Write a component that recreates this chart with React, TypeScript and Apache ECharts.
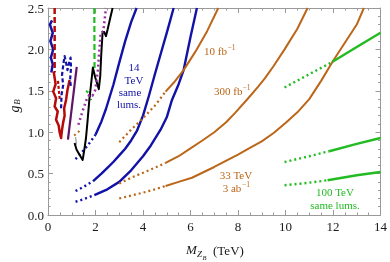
import React, { useEffect, useRef } from "react";
import * as echarts from "echarts";

const FONT = "'Liberation Serif', 'DejaVu Serif', serif";

const xRange = [0, 14];
const yRange = [0, 2.5];

// 14 TeV (blue)
const blue1Dotted = [[1.16, 0.675], [1.4, 0.75], [1.7, 0.85], [2.0, 0.97]];
const blue1Solid = [[2.0, 0.97], [2.25, 1.13], [2.44, 1.28], [2.75, 1.57], [3.0, 1.84], [3.25, 2.1], [3.5, 2.33], [3.73, 2.5]];
const blue2Dotted = [[1.16, 0.29], [1.5, 0.34], [1.9, 0.41]];
const blue2Solid = [[1.9, 0.41], [2.25, 0.5], [2.5, 0.57], [2.75, 0.64], [3.0, 0.72], [3.25, 0.8], [3.5, 0.9], [3.75, 1.02], [4.0, 1.2], [4.25, 1.44], [4.5, 1.7], [4.75, 1.95], [5.0, 2.2], [5.29, 2.5]];
const blue3Dotted = [[1.16, 0.16], [1.5, 0.19], [1.95, 0.24]];
const blue3Solid = [[1.95, 0.24], [2.5, 0.31], [3.0, 0.4], [3.5, 0.54], [4.0, 0.71], [4.33, 0.84], [4.74, 1.03], [5.0, 1.18], [5.22, 1.39], [5.5, 1.58], [5.71, 1.75], [6.0, 2.15], [6.27, 2.5]];

// 33 TeV (brown)
const fb10Dotted = [[3.0, 0.88], [3.5, 1.03], [4.0, 1.17], [4.5, 1.32], [4.95, 1.49]];
const fb10Solid = [[4.95, 1.49], [5.3, 1.6], [5.71, 1.75], [6.2, 1.97], [6.7, 2.22], [7.17, 2.5]];
const fb300Dotted = [[3.0, 0.38], [3.5, 0.45], [4.0, 0.51], [4.5, 0.57], [4.95, 0.63]];
const fb300Solid = [[4.95, 0.63], [5.5, 0.71], [5.92, 0.79], [6.5, 0.9], [7.0, 1.0], [7.5, 1.12], [7.87, 1.23], [8.43, 1.41], [8.85, 1.55], [9.13, 1.65], [9.5, 1.8], [9.96, 2.0], [10.5, 2.25], [10.93, 2.5]];
const ab3Dotted = [[3.0, 0.2], [3.5, 0.235], [4.0, 0.27], [4.5, 0.31], [4.95, 0.35]];
const ab3Solid = [[4.95, 0.35], [5.5, 0.4], [6.06, 0.45], [7.0, 0.58], [7.59, 0.67], [8.0, 0.73], [8.5, 0.81], [9.0, 0.89], [9.5, 0.99], [10.0, 1.11], [10.5, 1.24], [11.0, 1.4], [11.5, 1.62], [12.0, 1.86], [12.5, 2.08], [13.0, 2.3], [13.3, 2.5]];
const brownSmallDotted = [[1.1, 0.96], [1.22, 0.99], [1.35, 1.02]];

// 100 TeV (green)
const g1Dotted = [[9.96, 1.54], [11.0, 1.7], [11.98, 1.85]];
const g1Solid = [[11.98, 1.85], [13.0, 2.03], [14.0, 2.2]];
const g2Dotted = [[9.96, 0.64], [11.0, 0.71], [11.84, 0.77]];
const g2Solid = [[11.84, 0.77], [13.0, 0.86], [14.0, 0.93]];
const g3Dotted = [[9.96, 0.36], [11.0, 0.39], [11.77, 0.42]];
const g3Solid = [[11.77, 0.42], [13.0, 0.48], [14.0, 0.52]];

// existing limits (left region)
const blueJagged = [[0.17, 2.35], [0.08, 2.3], [0.2, 2.2], [0.1, 2.1], [0.22, 2.0], [0.12, 1.9], [0.2, 1.82], [0.14, 1.72]];
const redDashed = [[0.28, 2.5], [0.28, 1.72]];
const redSolid = [[0.24, 1.73], [0.32, 1.58], [0.22, 1.49], [0.34, 1.41], [0.28, 1.31], [0.41, 1.25], [0.34, 1.15], [0.45, 1.08], [0.49, 1.0], [0.55, 0.93], [0.59, 1.03], [0.64, 1.12], [0.7, 1.2], [0.68, 1.29], [0.76, 1.39], [0.82, 1.51], [0.91, 1.63]];
const redDashedShort = [[0.42, 1.62], [0.46, 1.5], [0.5, 1.38]];
const blueDashed = [[0.55, 1.29], [0.57, 1.45], [0.64, 1.57], [0.59, 1.69], [0.66, 1.85], [0.7, 1.92], [0.76, 1.84], [0.82, 1.75], [0.89, 1.84], [0.95, 1.9], [0.97, 1.78], [0.93, 1.63], [0.97, 1.54]];
const purpleSolid = [[0.84, 0.91], [1.21, 1.79]];
const greenDashed = [[1.95, 2.5], [1.96, 1.76]];
const greenDashedShort = [[1.6, 1.5], [1.74, 1.47], [1.82, 1.39]];
const grayShort = [[1.16, 0.94], [1.2, 0.85]];
const blackSolid = [[1.12, 0.87], [1.2, 0.79], [1.32, 0.73], [1.46, 0.665], [1.53, 0.79], [1.6, 0.93], [1.67, 1.15], [1.74, 1.39], [1.81, 1.57], [1.89, 1.78], [1.99, 1.66], [2.14, 1.52], [2.2, 1.68], [2.24, 1.93], [2.3, 2.21], [2.37, 2.21], [2.44, 2.16], [2.51, 2.24], [2.62, 2.38], [2.72, 2.5]];
const purpleDotted = [[1.28, 1.09], [1.45, 1.25], [1.62, 1.39], [1.74, 1.45], [1.87, 1.44], [1.99, 1.51], [2.1, 1.75], [2.18, 2.06], [2.22, 2.2], [2.33, 2.22], [2.44, 2.5]];

const BLUE = "#1212a8";
const BROWN = "#bb6618";
const GREEN = "#22bb22";
const RED = "#b80a0a";
const PURPLE = "#621466";
const PURPLE2 = "#9a2ea0";

const DOT = [2, 3];

function line(data: number[][], color: string, width: number, type: any, z = 2) {
  return {
    type: "line",
    data,
    showSymbol: false,
    symbol: "none",
    smooth: false,
    silent: true,
    z,
    lineStyle: { color, width, type, cap: "butt", join: "round" },
  };
}

function txt(x: number, y: number, text: string, color: string, size: number, align = "center", italic = false) {
  const font = `${italic ? "italic " : ""}${size}px ${FONT}`;
  return {
    type: "text",
    x,
    y,
    silent: true,
    style: {
      text,
      fill: color,
      font,
      align,
      textAlign: align,
      verticalAlign: "middle",
      textVerticalAlign: "middle",
    },
  };
}

export default function App() {
  const ref = useRef<HTMLDivElement>(null);
  useEffect(() => {
    if (!ref.current) return;
    const chart = echarts.init(ref.current, undefined, { renderer: "svg" });
    const axisCommon = {
      type: "value",
      axisLine: { show: true, onZero: false, lineStyle: { color: "#9a9a9a", width: 1 } },
      axisTick: { show: true, inside: true, length: 5, lineStyle: { color: "#9a9a9a" } },
      minorTick: { show: true, length: 2.5, lineStyle: { color: "#9a9a9a" } },
      splitLine: { show: false },
      minorSplitLine: { show: false },
    };
    chart.setOption({
      animation: false,
      grid: { left: 48, right: 7, top: 8, bottom: 47 },
      xAxis: [
        {
          ...axisCommon,
          min: xRange[0],
          max: xRange[1],
          interval: 2,
          minorTick: { ...axisCommon.minorTick, splitNumber: 4 },
          axisLabel: { color: "#1a1a1a", fontFamily: FONT, fontSize: 13, margin: 5 },
        },
        {
          ...axisCommon,
          position: "top",
          min: xRange[0],
          max: xRange[1],
          interval: 2,
          minorTick: { ...axisCommon.minorTick, splitNumber: 4 },
          axisLabel: { show: false },
        },
      ],
      yAxis: [
        {
          ...axisCommon,
          min: yRange[0],
          max: yRange[1],
          interval: 0.5,
          minorTick: { ...axisCommon.minorTick, splitNumber: 5 },
          axisLabel: {
            color: "#1a1a1a",
            fontFamily: FONT,
            fontSize: 13,
            margin: 4,
            formatter: (v: number) => v.toFixed(1),
          },
        },
        {
          ...axisCommon,
          position: "right",
          min: yRange[0],
          max: yRange[1],
          interval: 0.5,
          minorTick: { ...axisCommon.minorTick, splitNumber: 5 },
          axisLabel: { show: false },
        },
      ],
      series: [
        line(blue1Dotted, BLUE, 2.4, DOT),
        line(blue1Solid, BLUE, 2.4, "solid"),
        line(blue2Dotted, BLUE, 2.4, DOT),
        line(blue2Solid, BLUE, 2.4, "solid"),
        line(blue3Dotted, BLUE, 2.4, DOT),
        line(blue3Solid, BLUE, 2.4, "solid"),
        line(fb10Dotted, BROWN, 2.2, DOT),
        line(fb10Solid, BROWN, 2, "solid"),
        line(fb300Dotted, BROWN, 2.2, DOT),
        line(fb300Solid, BROWN, 2, "solid"),
        line(ab3Dotted, BROWN, 2.2, DOT),
        line(ab3Solid, BROWN, 2, "solid"),
        line(brownSmallDotted, BROWN, 2, DOT),
        line(g1Dotted, GREEN, 2.4, DOT),
        line(g1Solid, GREEN, 2.4, "solid"),
        line(g2Dotted, GREEN, 2.4, DOT),
        line(g2Solid, GREEN, 2.4, "solid"),
        line(g3Dotted, GREEN, 2.4, DOT),
        line(g3Solid, GREEN, 2.4, "solid"),
        line(blueJagged, BLUE, 2.5, "solid"),
        line(redDashed, RED, 2.5, [6, 3]),
        line(redSolid, RED, 2.5, "solid"),
        line(redDashedShort, RED, 2.2, [3, 2]),
        line(blueDashed, BLUE, 2.2, [4, 2.5]),
        line(purpleSolid, PURPLE, 2.2, "solid"),
        line(greenDashed, GREEN, 2.2, [6, 3]),
        line(greenDashedShort, GREEN, 2, [3, 2]),
        line(grayShort, "#999999", 1.2, "solid"),
        line(blackSolid, "#000000", 2, "solid", 3),
        line(purpleDotted, PURPLE2, 2.5, DOT, 3),
      ],
      graphic: [
        {
          type: "group",
          x: 14,
          y: 106,
          rotation: Math.PI / 2,
          children: [
            txt(-3, 0, "g", "#1a1a1a", 14, "center", true),
            txt(4, 3, "B", "#1a1a1a", 9, "center", true),
          ],
        },
        txt(191.5, 249.5, "M", "#1a1a1a", 13, "center", true),
        txt(199.5, 254, "Z", "#1a1a1a", 9, "center", true),
        txt(204.5, 257, "B", "#1a1a1a", 6.5, "center", true),
        txt(213, 250, "(TeV)", "#1a1a1a", 13, "left"),
        txt(134, 67, "14", BLUE, 11),
        txt(134, 79.5, "TeV", BLUE, 11),
        txt(130, 92, "same", BLUE, 11),
        txt(129, 104, "lums.", BLUE, 11),
        txt(204, 51, "10 fb", BROWN, 11, "left"),
        txt(227.5, 47.5, "\u22121", BROWN, 7.5, "left"),
        txt(214, 91, "300 fb", BROWN, 11, "left"),
        txt(242.5, 87.5, "\u22121", BROWN, 7.5, "left"),
        txt(236, 175, "33 TeV", BROWN, 11),
        txt(232, 188, "3 ab", BROWN, 11),
        txt(246, 184.5, "\u22121", BROWN, 7.5, "center"),
        txt(335, 192, "100 TeV", GREEN, 11),
        txt(335, 205, "same lums.", GREEN, 11),
      ],
    });
    return () => chart.dispose();
  }, []);
  return (
    <div
      ref={ref}
      style={{ position: "fixed", left: 0, top: 0, width: 390, height: 262 }}
    />
  );
}
